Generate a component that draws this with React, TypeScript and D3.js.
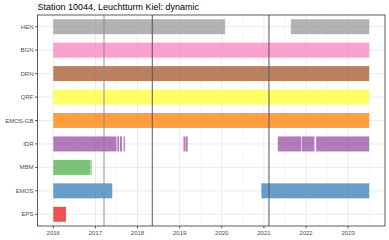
import React from "react";
import * as d3 from "d3";

const title = "Station 10044, Leuchtturm Kiel: dynamic";
const categories = ["HEN", "BGN", "DRN", "QRF", "EMOS-GB", "IDR", "MBM", "EMOS", "EPS"];
const colors = ["#999999", "#F781BF", "#A65628", "#FFFF33", "#FF7F00", "#984EA3", "#4DAF4A", "#377EB8", "#E41A1C"];
// segments per category: [start, end] in decimal years
const segHEN = [[2016.0, 2020.08], [2021.64, 2023.5]];
const segBGN = [[2016.0, 2023.5]];
const segDRN = [[2016.0, 2023.5]];
const segQRF = [[2016.0, 2023.5]];
const segEMOSGB = [[2016.0, 2023.5]];
const segIDR = [[2016.0, 2017.5], [2017.52, 2017.56], [2017.58, 2017.63], [2017.67, 2017.7], [2019.09, 2019.13], [2019.14, 2019.19], [2021.33, 2021.885], [2021.9, 2022.2], [2022.24, 2023.5]];
const segMBM = [[2016.0, 2016.87], [2016.88, 2016.91]];
const segEMOS = [[2016.0, 2017.4], [2020.94, 2023.5]];
const segEPS = [[2016.0, 2016.3]];
const segments = [segHEN, segBGN, segDRN, segQRF, segEMOSGB, segIDR, segMBM, segEMOS, segEPS];
const xTicks = [2016, 2017, 2018, 2019, 2020, 2021, 2022, 2023];
const vLinesLight = [2017.204];
const vLinesDark = [2018.35, 2021.12];

export default function App() {
  const W = 389, H = 240;
  const left = 37.5, right = 385, top = 15, bottom = 226;
  const x = d3.scaleLinear().domain([2015.625, 2023.875]).range([left, right]);
  const y = d3.scalePoint<string>().domain(categories).range([top, bottom]).padding(0.5);
  const step = y.step();
  const barH = step * 0.64;
  const minor = d3.range(2015.5, 2024, 1);
  const font = "'Liberation Sans', Arial, sans-serif";
  return (
    <svg width={W} height={H} style={{ position: "absolute", left: 0, top: 0, display: "block", background: "#fff" }}>
      <text x={left} y={10} fontFamily={font} fontSize={9} fill="#000">{title}</text>
      {/* minor grid */}
      {minor.filter(v => x(v) > left && x(v) < right).map(v => (
        <line key={"mn" + v} x1={x(v)} x2={x(v)} y1={top} y2={bottom} stroke="#f2f2f2" strokeWidth={0.6} />
      ))}
      {xTicks.map(v => (
        <line key={"mj" + v} x1={x(v)} x2={x(v)} y1={top} y2={bottom} stroke="#ebebeb" strokeWidth={1} />
      ))}
      {categories.map(c => (
        <line key={"hg" + c} x1={left} x2={right} y1={y(c)} y2={y(c)} stroke="#ebebeb" strokeWidth={1} />
      ))}
      {/* bars */}
      {categories.map((c, i) => segments[i].map((s, j) => (
        <rect key={c + j} x={x(s[0])} y={(y(c) as number) - barH / 2} width={x(s[1]) - x(s[0])} height={barH}
          fill={colors[i]} fillOpacity={0.75} />
      )))}
      {vLinesLight.map(v => (
        <line key={"vl" + v} x1={x(v)} x2={x(v)} y1={top} y2={bottom} stroke="#888" strokeOpacity={0.6} strokeWidth={1.6} />
      ))}
      {vLinesDark.map(v => (
        <line key={"vd" + v} x1={x(v)} x2={x(v)} y1={top} y2={bottom} stroke="#555" strokeWidth={1} />
      ))}
      <rect x={left} y={top} width={right - left} height={bottom - top} fill="none" stroke="#333" strokeWidth={0.8} />
      {categories.map(c => (
        <g key={"yt" + c}>
          <line x1={left - 2.5} x2={left} y1={y(c)} y2={y(c)} stroke="#333" strokeWidth={0.8} />
          <text x={left - 4} y={(y(c) as number) + 2} textAnchor="end" fontFamily={font} fontSize={6} fill="#4d4d4d">{c}</text>
        </g>
      ))}
      {xTicks.map(v => (
        <g key={"xt" + v}>
          <line x1={x(v)} x2={x(v)} y1={bottom} y2={bottom + 2.5} stroke="#333" strokeWidth={0.8} />
          <text x={x(v)} y={bottom + 9} textAnchor="middle" fontFamily={font} fontSize={6} fill="#4d4d4d">{v}</text>
        </g>
      ))}
    </svg>
  );
}
